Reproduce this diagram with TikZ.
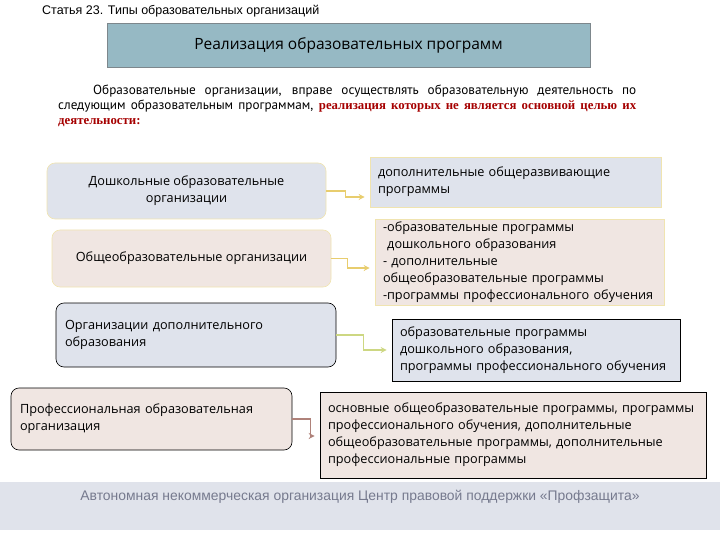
\documentclass[tikz,border=0pt]{standalone}
\usepackage{fontspec}
\setmainfont{Open Sans}
\newfontfamily\arialfont{Liberation Sans}
\newfontfamily\narrowfont{PT Sans}
\newfontfamily\seriffont{Liberation Serif}
\usetikzlibrary{arrows.meta}
\definecolor{hdFill}{RGB}{150, 185, 196}
\definecolor{hdLine}{RGB}{125, 135, 140}
\definecolor{bxBlue}{RGB}{223, 227, 236}
\definecolor{bxPink}{RGB}{240, 230, 226}
\definecolor{bxYellow}{RGB}{240, 228, 176}
\definecolor{arYellow}{RGB}{232, 205, 110}
\definecolor{arGreen}{RGB}{205, 215, 130}
\definecolor{arBrown}{RGB}{175, 130, 122}
\definecolor{txRed}{RGB}{165, 0, 0}
\definecolor{ftBg}{RGB}{224, 227, 235}
\definecolor{ftText}{RGB}{118, 122, 142}
\newcommand{\stretchsp}{\spaceskip=0.25em plus 10em\relax}

\begin{document}
\begin{tikzpicture}[x=1pt, y=-1pt,
    boxtext/.style={font=\fontsize{12.7}{17}\selectfont, inner xsep=8pt, inner ysep=2pt},
    orgbox/.style={boxtext, rounded corners=8pt, line width=0.6pt},
    progbox/.style={boxtext, line width=0.6pt, align=left},
    conn/.style={line width=1.3pt, -{Stealth[length=6pt, width=6pt]}, shorten >=5pt}]
    \useasboundingbox (0,0) rectangle (720,540);
    % footer band
    \fill[ftBg] (0,482) rectangle (720,530);
    \node[anchor=west, inner sep=0pt, font=\arialfont\fontsize{12.5}{14}\selectfont]
      (title) at (42,11) {Статья 23. Типы образовательных организаций};
    \node[fill=hdFill, draw=hdLine, minimum width=483pt, minimum height=44pt,
      font=\fontsize{15.5}{18}\selectfont] (head) at (348.5,45)
      {Реализация образовательных программ};
    % paragraph
    \node[anchor=north west, inner sep=0pt, align=left, text width=578pt,
      font=\narrowfont\fontsize{13.2}{15}\selectfont] (intro) at (58,85)
      {\stretchsp\hspace*{35pt}\makebox[543pt][s]{Образовательные организации, вправе осуществлять образовательную деятельность по}\\
       \makebox[578pt][s]{следующим образовательным программам, {\color{txRed}\seriffont\bfseries\fontsize{12.8}{15}\selectfont реализация которых не является основной целью их}}\\
       {\color{txRed}\seriffont\bfseries\fontsize{12.8}{15}\selectfont деятельности:}};
    % organisations
    \node[orgbox, fill=bxBlue, draw=bxYellow, minimum width=279pt, minimum height=56pt,
      align=center] (l1) at (186.5,191) {Дошкольные образовательные\\организации};
    \node[orgbox, fill=bxPink, draw=bxYellow, minimum width=279pt, minimum height=57pt,
      align=center] (l2) at (191.5,258.5) {Общеобразовательные организации};
    \node[orgbox, fill=bxBlue, draw=black, minimum width=280pt, minimum height=64pt,
      text width=262pt, align=left] (l3) at (196,335)
      {Организации дополнительного\\образования};
    \node[orgbox, fill=bxPink, draw=black, minimum width=281pt, minimum height=62pt,
      text width=263pt, align=left] (l4) at (151.5,419)
      {Профессиональная образовательная\\организация};
    % programmes
    \node[progbox, fill=bxBlue, draw=bxYellow, minimum height=50pt, text width=275pt]
      (r1) at (515.5,182) {дополнительные общеразвивающие\\программы};
    \node[progbox, fill=bxPink, draw=bxYellow, minimum height=86pt, text width=273pt]
      (r2) at (519.5,262)
      {-образовательные программы\\\ дошкольного образования\\- дополнительные\\общеобразовательные программы\\-программы профессионального обучения};
    \node[progbox, fill=bxBlue, draw=black, minimum height=62pt, text width=272pt]
      (r3) at (536,350)
      {образовательные программы\\дошкольного образования,\\программы профессионального обучения};
    \node[progbox, fill=bxPink, draw=black, minimum height=86pt, text width=370pt]
      (r4) at (513,435)
      {основные общеобразовательные программы, программы\\профессионального обучения, дополнительные\\общеобразовательные программы, дополнительные\\профессиональные программы};
    % connectors
    \foreach \from/\to/\dx/\dy/\col in {l1/r1/19/-15/arYellow, l2/r2/16/-6/arYellow,
      l3/r3/27/0/arGreen, l4/r4/18/-1/arBrown}{%
      \draw[conn, \col] (\from.east) -- ++(\dx,0) |- ([yshift=\dy pt]\to.west);
    }
    \node[font=\arialfont\fontsize{13.9}{16}\selectfont, text=ftText] (foot) at (360,497)
      {Автономная некоммерческая организация Центр правовой поддержки «Профзащита»};
\end{tikzpicture}
\end{document}
